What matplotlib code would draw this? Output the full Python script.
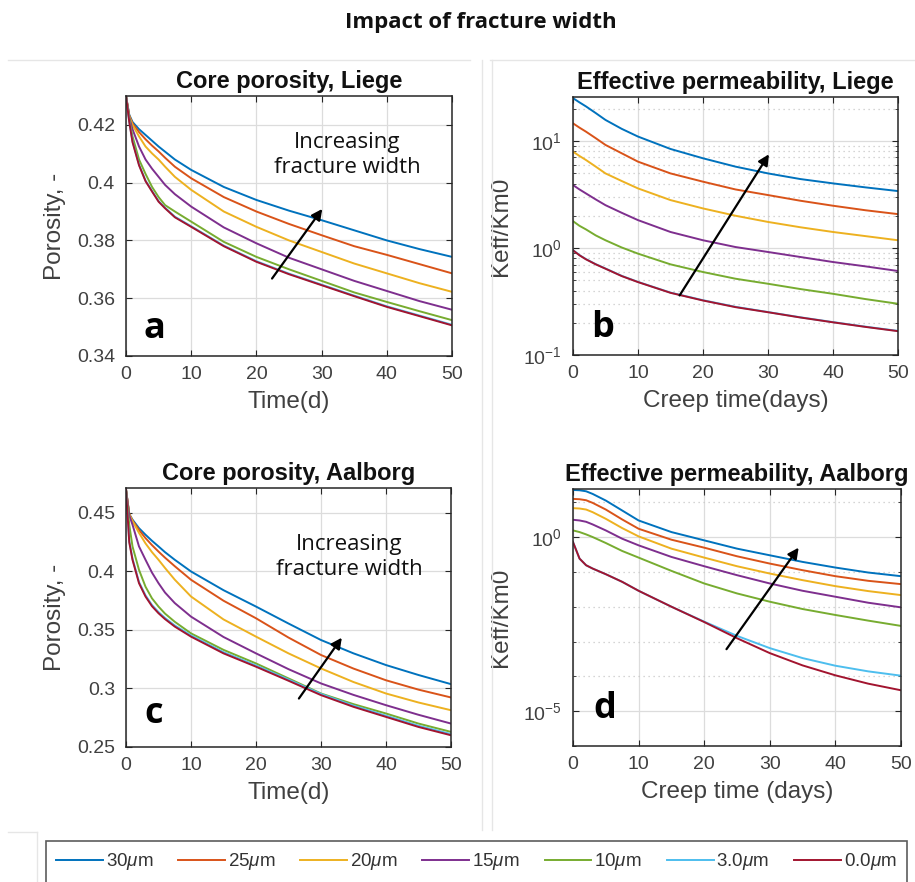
import numpy as np
import matplotlib
matplotlib.use('Agg')
import matplotlib.pyplot as plt
from matplotlib.ticker import FixedLocator, FormatStrFormatter, NullFormatter
from matplotlib.lines import Line2D

plt.rcParams['font.family'] = ['Liberation Sans', 'DejaVu Sans']
plt.rcParams['mathtext.fontset'] = 'custom'
plt.rcParams['mathtext.rm'] = 'Liberation Sans'
plt.rcParams['mathtext.it'] = 'Liberation Sans:italic'

# Fracture widths and MATLAB default line colours
widths = ['30', '25', '20', '15', '10', '3.0', '0.0']
colors = ['#0072BD', '#D95319', '#EDB120', '#7E2F8E', '#77AC30', '#4DBEEE', '#A2142F']

# (a) Core porosity, Liege
t_a = [0, 0.5, 1, 2, 3, 4, 5, 6, 7.5, 10, 15, 20, 25, 30, 35, 40, 45, 50]
por_liege = [
    [0.430, 0.4235, 0.421, 0.4185, 0.4165, 0.4145, 0.4125, 0.4107, 0.408, 0.4044, 0.3985, 0.394, 0.3903, 0.387, 0.3835, 0.380, 0.377, 0.3743],
    [0.430, 0.4232, 0.4205, 0.4175, 0.415, 0.4128, 0.4108, 0.4086, 0.4055, 0.4015, 0.395, 0.390, 0.3857, 0.3818, 0.378, 0.375, 0.3718, 0.3686],
    [0.430, 0.423, 0.420, 0.416, 0.4125, 0.4101, 0.408, 0.4055, 0.402, 0.3975, 0.390, 0.3847, 0.380, 0.376, 0.372, 0.3686, 0.3652, 0.3622],
    [0.430, 0.4225, 0.4185, 0.4125, 0.408, 0.4048, 0.402, 0.3992, 0.396, 0.3917, 0.3845, 0.379, 0.374, 0.370, 0.366, 0.3625, 0.359, 0.356],
    [0.430, 0.422, 0.416, 0.408, 0.403, 0.3985, 0.395, 0.3922, 0.390, 0.3865, 0.3795, 0.3743, 0.370, 0.366, 0.362, 0.3587, 0.3555, 0.3524],
    [0.430, 0.4212, 0.4143, 0.4062, 0.4007, 0.3971, 0.3936, 0.3913, 0.3882, 0.3849, 0.3782, 0.3728, 0.3685, 0.3647, 0.3609, 0.3572, 0.354, 0.3508],
    [0.430, 0.421, 0.414, 0.406, 0.4005, 0.3969, 0.3934, 0.3911, 0.388, 0.3847, 0.378, 0.3726, 0.3683, 0.3645, 0.3607, 0.357, 0.3538, 0.3506],
]

# (b) Effective permeability, Liege
t_b = [0, 1, 2, 3.5, 5, 7.5, 10, 15, 20, 25, 30, 35, 40, 45, 50]
perm_liege = [
    [25.1, 22.9, 21.0, 18.2, 15.7, 12.96, 10.98, 8.41, 6.88, 5.75, 4.97, 4.40, 4.01, 3.68, 3.40],
    [14.6, 13.3, 12.2, 10.6, 9.17, 7.66, 6.40, 4.97, 4.16, 3.52, 3.12, 2.76, 2.48, 2.25, 2.07],
    [7.94, 7.23, 6.63, 5.75, 4.97, 4.22, 3.60, 2.80, 2.34, 2.00, 1.75, 1.56, 1.41, 1.29, 1.18],
    [3.87, 3.52, 3.23, 2.84, 2.51, 2.13, 1.82, 1.41, 1.18, 1.02, 0.917, 0.823, 0.739, 0.673, 0.609],
    [1.78, 1.61, 1.49, 1.31, 1.18, 1.01, 0.885, 0.703, 0.596, 0.516, 0.463, 0.413, 0.373, 0.333, 0.301],
    [0.955, 0.858, 0.787, 0.706, 0.643, 0.549, 0.482, 0.383, 0.325, 0.282, 0.252, 0.225, 0.203, 0.184, 0.168],
    [0.951, 0.854, 0.783, 0.703, 0.640, 0.546, 0.480, 0.381, 0.323, 0.280, 0.251, 0.224, 0.202, 0.183, 0.167],
]

# (c) Core porosity, Aalborg
t_c = [0, 0.5, 1, 2, 3, 4, 5, 6, 7.5, 10, 15, 20, 25, 30, 35, 40, 45, 50]
por_aalborg = [
    [0.470, 0.449, 0.4443, 0.437, 0.4314, 0.4262, 0.4214, 0.4165, 0.410, 0.400, 0.384, 0.370, 0.3555, 0.3414, 0.330, 0.320, 0.3115, 0.3037],
    [0.470, 0.449, 0.4435, 0.4355, 0.4285, 0.4225, 0.417, 0.4118, 0.4045, 0.3929, 0.375, 0.360, 0.3435, 0.3286, 0.317, 0.307, 0.299, 0.2923],
    [0.470, 0.449, 0.443, 0.433, 0.424, 0.4165, 0.410, 0.403, 0.393, 0.3786, 0.359, 0.3443, 0.330, 0.3171, 0.3055, 0.2957, 0.288, 0.2814],
    [0.470, 0.448, 0.440, 0.4214, 0.410, 0.399, 0.390, 0.382, 0.373, 0.3614, 0.344, 0.330, 0.3165, 0.3043, 0.2945, 0.2857, 0.2775, 0.270],
    [0.470, 0.440, 0.4214, 0.4014, 0.387, 0.377, 0.370, 0.364, 0.357, 0.3471, 0.333, 0.3214, 0.3086, 0.2957, 0.2866, 0.2786, 0.270, 0.2629],
    [0.470, 0.426, 0.411, 0.391, 0.3796, 0.3713, 0.3653, 0.3603, 0.3539, 0.3453, 0.331, 0.3196, 0.3076, 0.2953, 0.2853, 0.2767, 0.2681, 0.261],
    [0.470, 0.425, 0.410, 0.390, 0.3786, 0.3703, 0.3643, 0.3593, 0.3529, 0.3443, 0.330, 0.3186, 0.3066, 0.2943, 0.2843, 0.2757, 0.2671, 0.260],
]

# (d) Effective permeability, Aalborg (log10 of Keff/Km0)
t_d = [0, 1, 2, 3, 5, 7.5, 10, 15, 20, 25, 30, 35, 40, 45, 50]
log_perm_aalborg = [
    [1.352, 1.343, 1.314, 1.238, 1.048, 0.762, 0.476, 0.143, -0.095, -0.333, -0.524, -0.714, -0.876, -1.019, -1.124],
    [1.095, 1.086, 1.057, 0.981, 0.790, 0.505, 0.238, -0.076, -0.305, -0.552, -0.762, -0.952, -1.124, -1.257, -1.352],
    [0.829, 0.819, 0.790, 0.714, 0.524, 0.257, 0.019, -0.333, -0.590, -0.838, -1.048, -1.238, -1.410, -1.552, -1.667],
    [0.495, 0.476, 0.438, 0.362, 0.190, -0.048, -0.238, -0.571, -0.838, -1.095, -1.333, -1.543, -1.714, -1.886, -2.019],
    [0.190, 0.143, 0.076, 0.000, -0.171, -0.400, -0.590, -0.971, -1.333, -1.619, -1.857, -2.067, -2.238, -2.400, -2.552],
    [-0.143, -0.619, -0.810, -0.905, -1.067, -1.286, -1.543, -2.000, -2.429, -2.838, -3.190, -3.476, -3.695, -3.857, -3.981],
    [-0.143, -0.619, -0.810, -0.905, -1.067, -1.286, -1.543, -2.000, -2.440, -2.905, -3.333, -3.686, -3.971, -4.210, -4.400],
]

TICK_COLOR = '#404040'
GRID_COLOR = '#dcdcdc'


def style_axis(ax, title, xlabel, ylabel):
    """Apply MATLAB-like formatting"""
    ax.set_xlim(0, 50)
    ax.set_xticks([0, 10, 20, 30, 40, 50])
    ax.set_title(title, fontsize=17, fontweight='bold', pad=6, color='#111111')
    ax.set_xlabel(xlabel, fontsize=17.5, color=TICK_COLOR, labelpad=6)
    ax.set_ylabel(ylabel, fontsize=17.5, color=TICK_COLOR, labelpad=8)
    ax.tick_params(which='both', direction='in', top=True, right=True, labelsize=14,
                   labelcolor=TICK_COLOR, color='#262626')
    ax.tick_params(which='major', length=4)
    ax.tick_params(which='minor', length=2)
    ax.tick_params(axis='x', which='both', pad=7)
    ax.tick_params(axis='y', which='both', pad=8)
    ax.grid(True, which='major', color=GRID_COLOR, linewidth=0.9, linestyle='-')
    ax.set_axisbelow(True)
    for s in ax.spines.values():
        s.set_color('#262626')
        s.set_linewidth(1.1)


def panel_letter(ax, letter, x, y):
    ax.text(x, y, letter, fontsize=26, fontweight='bold', family='Open Sans',
            ha='center', va='center', color='black')


def add_arrow(ax, start, end):
    ax.annotate('', xy=end, xytext=start,
                arrowprops=dict(arrowstyle='-|>', color='black', lw=1.6, mutation_scale=16,
                                shrinkA=0, shrinkB=0))


fig = plt.figure(figsize=(9.15, 8.82), dpi=100)

# Tile borders of the composite figure
for (x0, x1, y0, y1) in [(0.009, 0.514, 0.932, 0.932), (0.535, 1.0, 0.932, 0.932),
                         (0.527, 0.527, 0.059, 0.932), (0.538, 0.538, 0.059, 0.932),
                         (0.009, 0.040, 0.057, 0.057), (0.040, 0.040, 0.0, 0.057)]:
    fig.add_artist(Line2D([x0, x1], [y0, y1], transform=fig.transFigure, color='#e6e6e6', lw=1))

fig.text(0.526, 0.974, 'Impact of fracture width', family='Open Sans', fontsize=16,
         fontweight='bold', ha='center', va='center', color='#111111')

ax_a = fig.add_axes([0.1377, 0.5964, 0.3563, 0.2948])
ax_b = fig.add_axes([0.6262, 0.5975, 0.3552, 0.2925])
ax_c = fig.add_axes([0.1377, 0.1531, 0.3552, 0.2937])
ax_d = fig.add_axes([0.6262, 0.1542, 0.3585, 0.2914])

handles = []
for i, w in enumerate(widths):
    line, = ax_a.plot(t_a, por_liege[i], color=colors[i], lw=1.4, label=w + r'$\mu$m')
    handles.append(line)
    ax_b.plot(t_b, perm_liege[i], color=colors[i], lw=1.4)
    ax_c.plot(t_c, por_aalborg[i], color=colors[i], lw=1.4)
    ax_d.plot(t_d, 10 ** np.array(log_perm_aalborg[i]), color=colors[i], lw=1.4)

# (a)
style_axis(ax_a, 'Core porosity, Liege', 'Time(d)', 'Porosity, -')
ax_a.set_ylim(0.34, 0.43)
ax_a.set_yticks([0.34, 0.36, 0.38, 0.40, 0.42])
ax_a.yaxis.set_major_formatter(FormatStrFormatter('%g'))
ax_a.text(33.9, 0.4096, 'Increasing\nfracture width', family='Open Sans', fontsize=16,
          ha='center', va='center', linespacing=1.25, color='#111111')
add_arrow(ax_a, (22.4, 0.3668), (30.1, 0.3909))
panel_letter(ax_a, 'a', 4.3, 0.3495)

# (b)
ax_b.set_yscale('log')
style_axis(ax_b, 'Effective permeability, Liege', 'Creep time(days)', 'Keff/Km0')
ax_b.set_ylim(0.1, 25.7)
ax_b.yaxis.set_major_locator(FixedLocator([0.1, 1, 10]))
ax_b.yaxis.set_minor_locator(FixedLocator([m * d for d in [0.1, 1, 10] for m in range(2, 10)]))
ax_b.yaxis.set_minor_formatter(NullFormatter())
ax_b.grid(True, which='minor', axis='y', color='#c8c8c8', linewidth=0.9, linestyle=(0, (1, 3)))
add_arrow(ax_b, (16.4, 0.36), (30.15, 7.5))
panel_letter(ax_b, 'b', 4.6, 0.18)

# (c)
style_axis(ax_c, 'Core porosity, Aalborg', 'Time(d)', 'Porosity, -')
ax_c.set_ylim(0.25, 0.4714)
ax_c.set_yticks([0.25, 0.30, 0.35, 0.40, 0.45])
ax_c.yaxis.set_major_formatter(FormatStrFormatter('%g'))
ax_c.text(34.3, 0.4123, 'Increasing\nfracture width', family='Open Sans', fontsize=16,
          ha='center', va='center', linespacing=1.25, color='#111111')
add_arrow(ax_c, (26.6, 0.2914), (33.2, 0.3434))
panel_letter(ax_c, 'c', 4.3, 0.2786)

# (d)
ax_d.set_yscale('log')
style_axis(ax_d, 'Effective permeability, Aalborg', 'Creep time (days)', 'Keff/Km0')
ax_d.set_ylim(1e-6, 10 ** 1.38)
ax_d.yaxis.set_major_locator(FixedLocator([1e-5, 1]))
ax_d.yaxis.set_minor_locator(FixedLocator([10.0 ** k for k in range(-6, 2) if k not in (-5, 0)]))
ax_d.yaxis.set_minor_formatter(NullFormatter())
ax_d.grid(True, which='minor', axis='y', color='#c8c8c8', linewidth=0.9, linestyle=(0, (1, 3)))
add_arrow(ax_d, (23.4, 10 ** -3.22), (34.4, 10 ** -0.305))
panel_letter(ax_d, 'd', 4.8, 10 ** -4.95)

leg = fig.legend(handles=handles, loc='upper left', bbox_to_anchor=(0.050, 0.0465, 0.941, 0.0),
                 mode='expand', ncol=7, fontsize=13.5, frameon=True, fancybox=False,
                 handlelength=2.5, handletextpad=0.15, columnspacing=1.2, borderpad=0.55,
                 borderaxespad=0)
leg.get_frame().set_edgecolor('#333333')
leg.get_frame().set_linewidth(1.2)
for txt in leg.get_texts():
    txt.set_color('#333333')

fig.savefig('out.png', dpi=100)
